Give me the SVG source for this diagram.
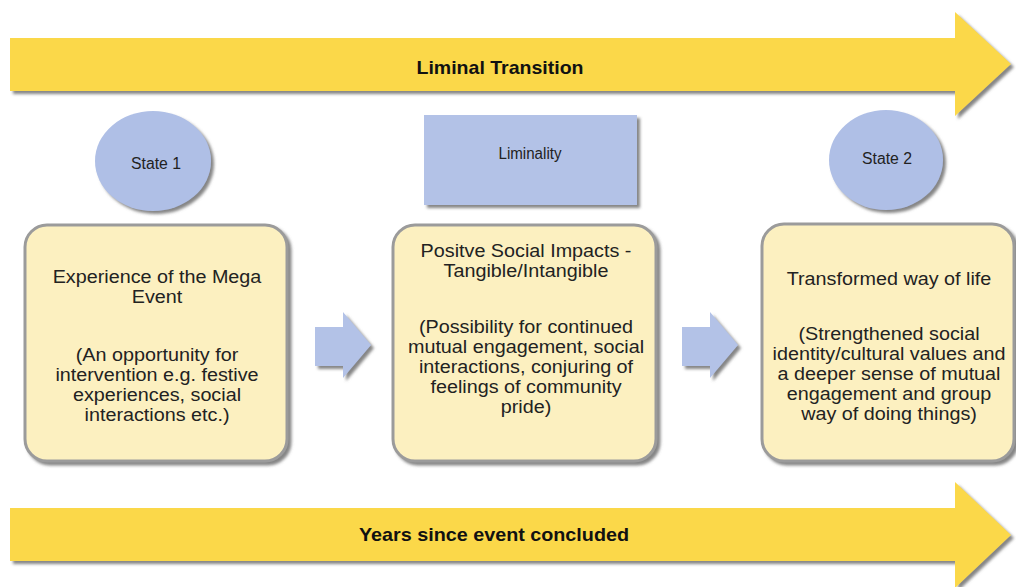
<svg xmlns="http://www.w3.org/2000/svg" width="1016" height="587" viewBox="0 0 1016 587">
<defs>
<filter id="sh" x="-10%" y="-10%" width="130%" height="140%">
<feDropShadow dx="3" dy="3" stdDeviation="1.5" flood-color="#6f6f6f" flood-opacity="0.85"/>
</filter>
</defs>
<style>
.band{fill:#fbd84a;filter:url(#sh)}
.oval{fill:#afbfe6;filter:url(#sh)}
.box{fill:#fcf0c0;stroke:#9b9b9b;stroke-width:3;filter:url(#sh)}
.blk{fill:#b3c2e7;filter:url(#sh)}
.t{font-family:"Liberation Sans",Arial,sans-serif;font-size:17.5px;fill:#222;text-anchor:middle}
.s{font-family:"Liberation Sans",Arial,sans-serif;font-size:16px;fill:#222;text-anchor:middle}
.b{font-family:"Liberation Sans",Arial,sans-serif;font-size:18.5px;font-weight:bold;fill:#111;text-anchor:middle}
</style>
<rect width="1016" height="587" fill="#fff"/>
<g id="liminal-transition">
<polygon class="band" points="10,38 955,38 955,12 1011,64 955,116 955,91 10,91"/>
<text class="b" x="500" y="74" textLength="167" lengthAdjust="spacingAndGlyphs">Liminal Transition</text>
</g>
<g id="state1">
<ellipse class="oval" cx="153" cy="161" rx="58" ry="50"/>
<text class="s" x="156" y="169" textLength="50" lengthAdjust="spacingAndGlyphs">State 1</text>
</g>
<g id="liminality">
<rect class="blk" x="424" y="115" width="213" height="90"/>
<text class="s" x="530" y="159" textLength="63" lengthAdjust="spacingAndGlyphs">Liminality</text>
</g>
<g id="state2">
<ellipse class="oval" cx="886" cy="160" rx="57" ry="50"/>
<text class="s" x="887" y="164" textLength="50" lengthAdjust="spacingAndGlyphs">State 2</text>
</g>
<g id="box1">
<rect class="box" x="25" y="225" width="262" height="236" rx="22"/>
<g transform="translate(157,0) scale(1.13,1)">
<text class="t" x="0" y="283">Experience of the Mega</text>
<text class="t" x="0" y="303">Event</text>
<text class="t" x="0" y="361">(An opportunity for</text>
<text class="t" x="0" y="381">intervention e.g. festive</text>
<text class="t" x="0" y="401">experiences, social</text>
<text class="t" x="0" y="421">interactions etc.)</text>
</g>
</g>
<g id="box2">
<rect class="box" x="393" y="225" width="263" height="236" rx="22"/>
<g transform="translate(526,0) scale(1.13,1)">
<text class="t" x="0" y="257">Positve Social Impacts -</text>
<text class="t" x="0" y="277">Tangible/Intangible</text>
<text class="t" x="0" y="333">(Possibility for continued</text>
<text class="t" x="0" y="353">mutual engagement, social</text>
<text class="t" x="0" y="373">interactions, conjuring of</text>
<text class="t" x="0" y="393">feelings of community</text>
<text class="t" x="0" y="413">pride)</text>
</g>
</g>
<g id="box3">
<rect class="box" x="762" y="224" width="252" height="237" rx="22"/>
<g transform="translate(889,0) scale(1.13,1)">
<text class="t" x="0" y="285">Transformed way of life</text>
<text class="t" x="0" y="340">(Strengthened social</text>
<text class="t" x="0" y="360">identity/cultural values and</text>
<text class="t" x="0" y="380">a deeper sense of mutual</text>
<text class="t" x="0" y="400">engagement and group</text>
<text class="t" x="0" y="420">way of doing things)</text>
</g>
</g>
<g id="connectors">
<polygon class="blk" points="315,327 343,327 343,312 371,345 343,378 343,366 315,366"/>
<polygon class="blk" points="682,327 710,327 710,312 738,345 710,378 710,366 682,366"/>
</g>
<g id="years-since">
<polygon class="band" points="10,508 955,508 955,482 1011,535 955,588 955,561 10,561"/>
<text class="b" x="494" y="541" textLength="270" lengthAdjust="spacingAndGlyphs">Years since event concluded</text>
</g>
</svg>
